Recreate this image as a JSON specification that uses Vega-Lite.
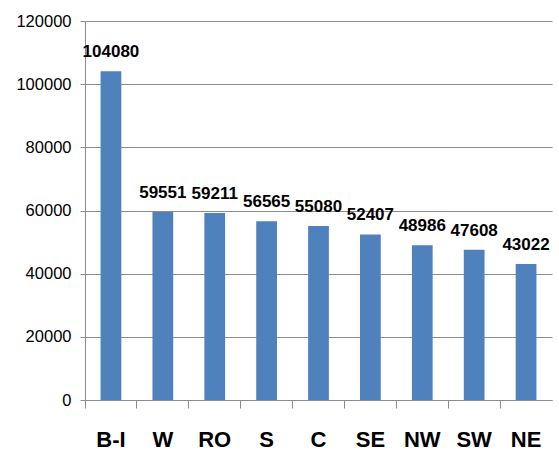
{
  "$schema": "https://vega.github.io/schema/vega-lite/v6.json",
  "autosize": "none",
  "padding": {"left": 85, "top": 21, "right": 7, "bottom": 55},
  "width": 467,
  "height": 379,
  "background": "white",
  "data": {"values": [
    {"region": "B-I", "value": 104080},
    {"region": "W", "value": 59551},
    {"region": "RO", "value": 59211},
    {"region": "S", "value": 56565},
    {"region": "C", "value": 55080},
    {"region": "SE", "value": 52407},
    {"region": "NW", "value": 48986},
    {"region": "SW", "value": 47608},
    {"region": "NE", "value": 43022}
  ]},
  "encoding": {
    "x": {
      "field": "region", "type": "nominal", "sort": null,
      "scale": {"paddingInner": 0, "paddingOuter": 0},
      "axis": {
        "title": null, "labelAngle": 0, "bandPosition": 0,
        "domainColor": "#8c8c8c", "tickColor": "#8c8c8c", "tickSize": 8,
        "labelFont": "'Arial Narrow', 'Liberation Sans Narrow', sans-serif", "labelFontWeight": "bold",
        "labelFontSize": 22, "labelColor": "black", "labelPadding": 21
      }
    },
    "y": {
      "field": "value", "type": "quantitative",
      "scale": {"domain": [0, 120000]},
      "axis": {
        "title": null, "values": [0, 20000, 40000, 60000, 80000, 100000, 120000],
        "format": "d", "grid": true, "gridColor": "#8c8c8c",
        "domainColor": "#8c8c8c", "tickColor": "#8c8c8c", "tickSize": 5,
        "labelFont": "'Liberation Sans Narrow', 'Arial Narrow', sans-serif", "labelFontSize": 16.5,
        "labelColor": "black", "labelPadding": 9
      }
    }
  },
  "layer": [
    {"mark": {"type": "bar", "color": "#4F81BD", "width": {"band": 0.4}}},
    {
      "mark": {"type": "text", "dy": -14, "baseline": "alphabetic",
        "font": "'Liberation Sans Narrow', 'Arial Narrow', sans-serif", "fontWeight": "bold", "fontSize": 17, "color": "black"},
      "encoding": {"text": {"field": "value", "type": "quantitative", "format": "d"}}
    }
  ],
  "config": {"view": {"stroke": null}}
}
